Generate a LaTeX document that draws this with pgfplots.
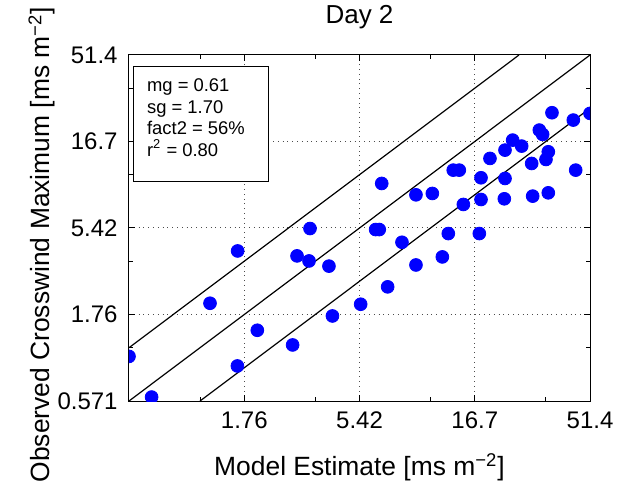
\documentclass[border=0pt]{standalone}
\usepackage{pgfplots}
\pgfplotsset{compat=1.18}
\usepackage{fontspec}
\setmainfont{Liberation Sans}
\begin{document}
\begin{tikzpicture}
\begin{axis}[
  at={(0,0)}, anchor=south west,
  scale only axis, width=230.5pt, height=173pt,
  xmode=log, ymode=log,
  xmin=0.571, xmax=51.4, ymin=0.571, ymax=51.4,
  xtick={0.571,1.76,5.42,16.7,51.4},
  xticklabels={,1.76,5.42,16.7,51.4},
  ytick={0.571,1.76,5.42,16.7,51.4},
  yticklabels={0.571,1.76,5.42,16.7,51.4},
  minor xtick={1.142,3.52,10.84,33.4},
  minor ytick={1.142,3.52,10.84,33.4},
  tick align=inside, major tick length=3pt, minor tick length=2pt,
  tick style={black, line width=0.5pt},
  axis line style={black, line width=0.5pt},
  grid=major,
  major grid style={black!70, dotted, line width=0.5pt},
  tick label style={font=\fontsize{12}{14}\selectfont},
  xticklabel style={anchor=base, yshift=-13.7pt},
  yticklabel style={anchor=east, inner sep=0pt, xshift=-5.5pt},
  label style={font=\fontsize{13.2}{15}\selectfont},
  xlabel={Model Estimate [ms m\textsuperscript{−2}]},
  ylabel={Observed Crosswind Maximum [ms m\textsuperscript{−2}]},
  xlabel style={at={(axis description cs:0.5,-0.214)}, anchor=base},
  ylabel style={at={(axis description cs:-0.1714,0.452)}, anchor=base},
  title={Day 2},
  title style={at={(axis description cs:0.5,1)}, anchor=base, yshift=9.65pt, font=\fontsize{13}{15}\selectfont},
  clip marker paths=true,
]
\addplot[black, line width=0.6pt] coordinates {(0.571,0.571) (51.4,51.4)};
\addplot[black, line width=0.6pt] coordinates {(0.571,1.142) (25.7,51.4)};
\addplot[black, line width=0.6pt] coordinates {(1.142,0.571) (51.4,25.7)};
\addplot[only marks, mark=*, mark size=3.2pt, color={rgb,255:red,0;green,0;blue,255}] coordinates {
(0.571,1.02) (0.712,0.601) (1.259,2.036) (1.649,4.02) (1.645,0.901)
(1.998,1.433) (2.82,1.184) (2.944,3.77) (3.342,5.38) (3.31,3.53)
(4.02,3.30) (4.16,1.726) (5.48,2.01) (6.34,5.31) (6.57,5.31)
(6.73,9.67) (7.13,2.52) (8.20,4.50) (9.40,3.35) (9.40,8.34)
(11.03,8.49) (12.16,3.72) (12.89,5.04) (13.53,11.50) (14.35,11.50)
(14.93,7.36) (17.45,5.04) (17.74,10.41) (17.74,7.85) (19.36,13.39)
(22.42,10.32) (22.42,14.92) (22.27,7.92) (24.16,16.99) (26.38,15.72)
(29.08,12.54) (29.37,8.20) (31.34,19.36) (32.37,18.30) (34.21,14.60)
(33.44,13.21) (34.21,8.56) (35.46,24.26) (43.67,22.05) (44.69,11.50)
(51.4,24.05)
};
\draw[black, line width=0.5pt, fill=white] (rel axis cs:0.0093,0.966) rectangle (rel axis cs:0.302,0.634);
\node[anchor=west, align=left, inner sep=0pt, font=\fontsize{9.2}{10.8}\selectfont] at (rel axis cs:0.0384,0.819)
  {mg = 0.61\\sg = 1.70\\fact2 = 56\%\\r\textsuperscript{2} = 0.80};
\end{axis}
\pgfresetboundingbox
\path (-64.5pt,-43.5pt) rectangle (247.5pt,200.5pt);
\end{tikzpicture}
\end{document}
